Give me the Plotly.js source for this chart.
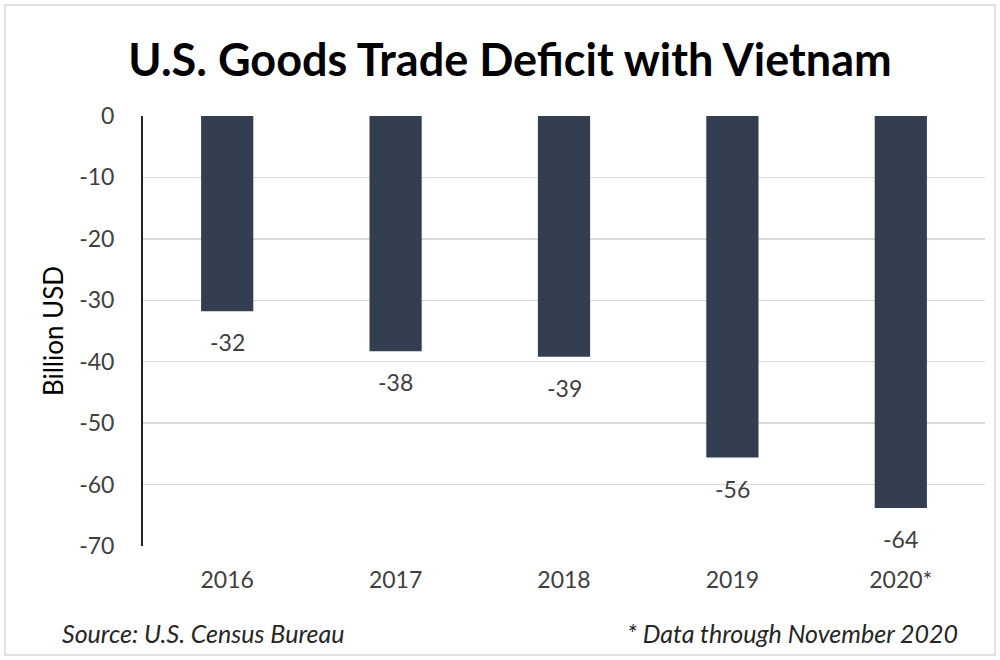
<!DOCTYPE html>
<html>
<head>
<meta charset="utf-8">
<script src="https://cdn.plot.ly/plotly-3.0.1.min.js"></script>
<style>
  html, body { margin: 0; padding: 0; background: #fff; }
  #chart { width: 1000px; height: 660px; }
</style>
</head>
<body>
<div id="chart"></div>
<script>
const years = ["2016", "2017", "2018", "2019", "2020*"];
const deficit = [-31.8, -38.3, -39.2, -55.6, -63.8];
const yTicks = [0, -10, -20, -30, -40, -50, -60, -70];

const FONT = "Lato, sans-serif";

const trace = {
  type: "bar",
  x: years,
  y: deficit,
  marker: { color: "#333f50" },
  width: 0.31,
  hoverinfo: "skip"
};

// value labels below each bar; x given as category index
const valueLabels = years.map((yr, i) => ({
  x: i,
  y: deficit[i],
  xref: "x", yref: "y",
  text: String(Math.round(deficit[i])),
  showarrow: false,
  yanchor: "middle",
  yshift: -31,
  font: { family: FONT, size: 23, color: "#404040" }
}));

const layout = {
  width: 1000,
  height: 660,
  margin: { l: 143, r: 15, t: 116, b: 114 },
  paper_bgcolor: "#ffffff",
  plot_bgcolor: "#ffffff",
  showlegend: false,
  title: {
    text: "<b>U.S. Goods Trade Deficit with Vietnam</b>",
    font: { family: FONT, size: 45, color: "#000000" },
    x: 0.51, xanchor: "center",
    y: 0.908, yanchor: "middle"
  },
  xaxis: {
    type: "category",
    range: [-0.5, years.length - 0.5],
    showline: false,
    showgrid: false,
    zeroline: false,
    ticks: "",
    tickfont: { family: FONT, size: 23, color: "#404040" },
    ticklabelstandoff: 18
  },
  yaxis: {
    range: [-70, 0],
    tickvals: yTicks,
    ticktext: yTicks.map(String),
    showgrid: true,
    gridcolor: "#d9d9d9",
    gridwidth: 1.5,
    zeroline: false,
    showline: true,
    linecolor: "#222222",
    linewidth: 2,
    ticks: "",
    ticklabelstandoff: 22,
    tickfont: { family: FONT, size: 23, color: "#404040" },
    title: {
      text: "Billion USD",
      font: { family: FONT, size: 26, color: "#000000" },
      standoff: 8
    }
  },
  shapes: [
    {
      type: "rect", xref: "paper", yref: "paper",
      x0: -138/842, x1: (995-143)/842, y0: -109/430, y1: (660-5-114)/430,
      line: { color: "#d9d9d9", width: 1.5 }, fillcolor: "rgba(0,0,0,0)", layer: "below"
    }
  ],
  annotations: valueLabels.concat([
    {
      text: "<i>Source: U.S. Census Bureau</i>",
      xref: "paper", yref: "paper",
      x: (60-143)/842, xanchor: "left",
      y: -(633-546)/430, yanchor: "middle",
      showarrow: false,
      font: { family: FONT, size: 25, color: "#262626" }
    },
    {
      text: "<i>* Data through November 2020</i>",
      xref: "paper", yref: "paper",
      x: (960-143)/842, xanchor: "right",
      y: -(633-546)/430, yanchor: "middle",
      showarrow: false,
      font: { family: FONT, size: 25, color: "#262626" }
    }
  ])
};

Plotly.newPlot("chart", [trace], layout, { displayModeBar: false, staticPlot: true });
</script>
</body>
</html>
